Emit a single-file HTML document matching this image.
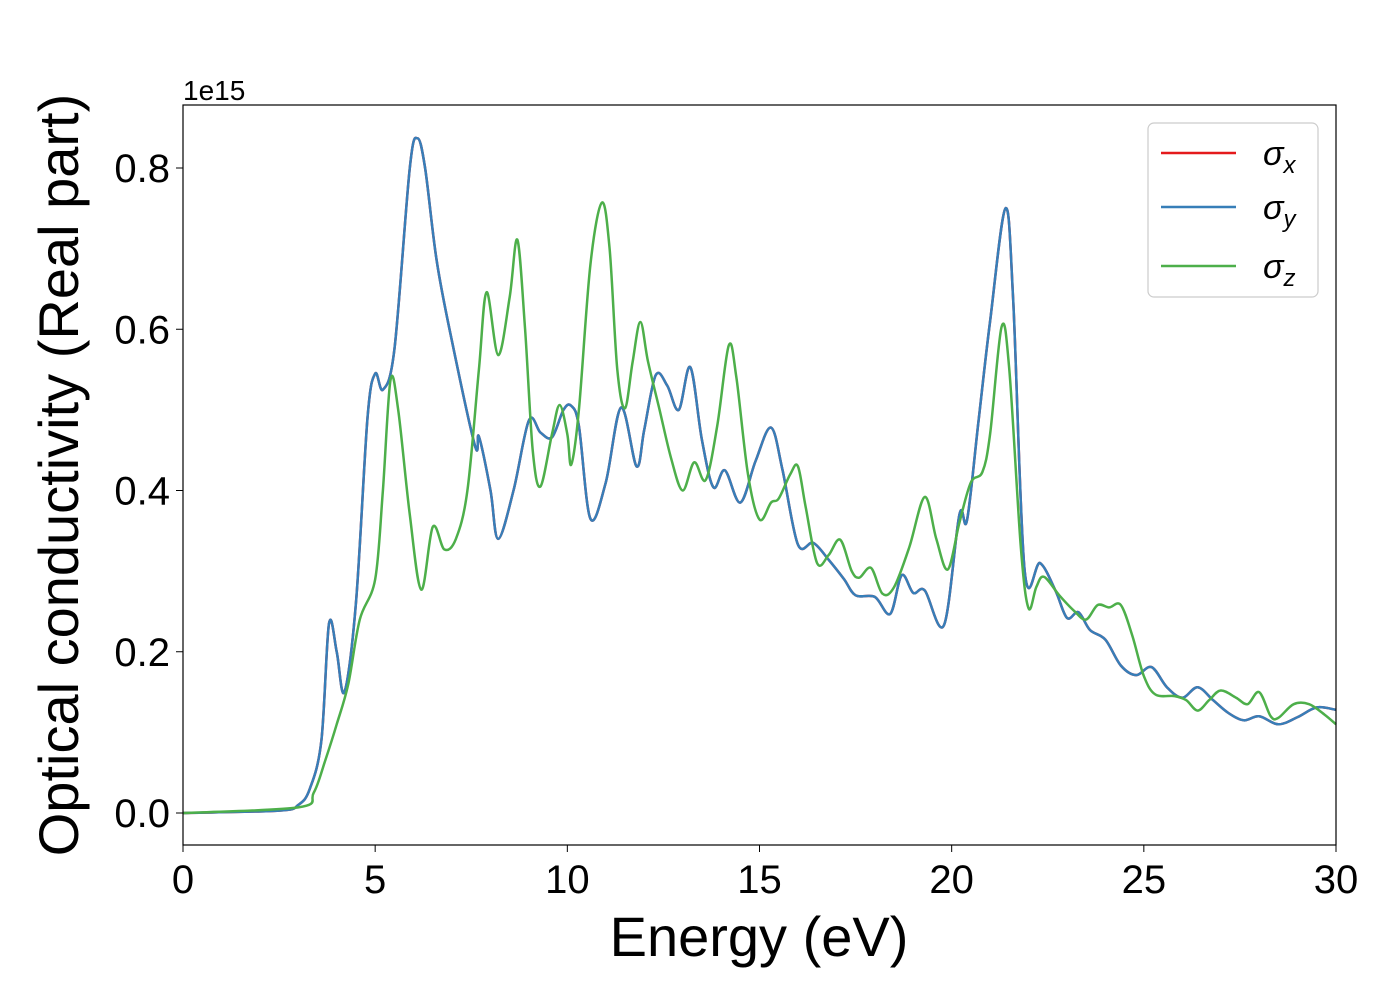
<!DOCTYPE html>
<html><head><meta charset="utf-8"><style>
html,body{margin:0;padding:0;background:#fff;}
svg{display:block;font-family:"Liberation Sans","DejaVu Sans",sans-serif;}
</style></head><body>
<svg id="chart" width="1400" height="1000" viewBox="0 0 1400 1000">
<rect width="1400" height="1000" fill="#fff"/>
<g id="series"></g>
<rect x="183" y="105" width="1153" height="740" fill="none" stroke="#000" stroke-width="1.2"/>
<g id="xticks"></g>
<g id="yticks"></g>
<text x="183" y="100" font-size="28">1e15</text>
<text x="759" y="956" font-size="56" text-anchor="middle">Energy (eV)</text>
<text transform="translate(78,475) rotate(-90)" font-size="56" text-anchor="middle">Optical conductivity (Real part)</text>
<g>
<rect x="1148" y="123" width="170" height="174" rx="6" fill="#fff" stroke="#ccc" stroke-width="1.2"/>
<line x1="1161" y1="153" x2="1236" y2="153" stroke="#e41a1c" stroke-width="2.5"/>
<text x="1263" y="165" font-size="34" font-style="italic">σ<tspan font-size="24" dy="8">x</tspan></text>
<line x1="1161" y1="207" x2="1236" y2="207" stroke="#377eb8" stroke-width="2.5"/>
<text x="1263" y="219" font-size="34" font-style="italic">σ<tspan font-size="24" dy="8">y</tspan></text>
<line x1="1161" y1="266" x2="1236" y2="266" stroke="#4daf4a" stroke-width="2.5"/>
<text x="1263" y="278" font-size="34" font-style="italic">σ<tspan font-size="24" dy="8">z</tspan></text>
</g>
</svg>
<script>
const xyE=[0,2.5,3,3.3,3.6,3.8,4.0,4.2,4.5,4.8,5.0,5.2,5.5,5.9,6.1,6.3,6.6,7.0,7.6,7.7,8.0,8.2,8.6,9.0,9.3,9.6,9.9,10.1,10.3,10.6,11.0,11.4,11.8,12.0,12.3,12.6,12.9,13.2,13.5,13.8,14.1,14.5,14.9,15.3,15.6,16.0,16.4,16.8,17.2,17.5,18.0,18.4,18.7,19.0,19.3,19.8,20.2,20.4,20.7,21.0,21.4,21.6,21.9,22.3,22.7,23.0,23.3,23.6,24.0,24.4,24.8,25.2,25.6,26.0,26.4,26.8,27.2,27.6,28.0,28.5,29.0,29.5,30];
const xyV=[0,0.003,0.01,0.03,0.09,0.235,0.2,0.15,0.26,0.49,0.545,0.525,0.575,0.8,0.837,0.8,0.685,0.585,0.455,0.467,0.4,0.34,0.4,0.487,0.472,0.466,0.5,0.505,0.48,0.365,0.41,0.503,0.43,0.475,0.543,0.53,0.5,0.553,0.463,0.404,0.425,0.385,0.437,0.478,0.425,0.333,0.335,0.314,0.29,0.27,0.268,0.247,0.295,0.273,0.276,0.233,0.37,0.363,0.487,0.61,0.75,0.636,0.3,0.31,0.276,0.242,0.249,0.227,0.215,0.183,0.171,0.181,0.156,0.143,0.156,0.14,0.124,0.115,0.12,0.11,0.119,0.131,0.128];
const zE=[0,3,3.4,3.7,4.0,4.3,4.6,5.0,5.2,5.4,5.6,5.9,6.2,6.5,6.8,7.1,7.4,7.7,7.9,8.2,8.5,8.7,8.9,9.1,9.3,9.6,9.8,10.0,10.1,10.3,10.6,10.9,11.1,11.3,11.5,11.7,11.9,12.1,12.4,12.7,13.0,13.3,13.6,13.9,14.2,14.4,14.7,15.0,15.3,15.5,15.8,16.0,16.2,16.5,16.8,17.1,17.4,17.6,17.9,18.2,18.5,18.9,19.3,19.6,19.9,20.2,20.5,20.8,21.0,21.3,21.5,21.8,22.0,22.2,22.4,22.8,23.2,23.5,23.8,24.1,24.4,24.7,25.0,25.3,25.8,26.1,26.4,26.7,27.0,27.4,27.7,28.0,28.3,28.5,28.9,29.3,29.7,30];
const zV=[0,0.007,0.025,0.065,0.11,0.16,0.24,0.29,0.4,0.537,0.5,0.37,0.277,0.355,0.327,0.34,0.4,0.55,0.646,0.568,0.64,0.711,0.6,0.45,0.405,0.47,0.506,0.47,0.432,0.5,0.68,0.757,0.7,0.55,0.502,0.56,0.609,0.56,0.5,0.44,0.4,0.435,0.413,0.48,0.58,0.54,0.42,0.364,0.385,0.39,0.42,0.43,0.38,0.31,0.32,0.339,0.3,0.292,0.304,0.272,0.28,0.33,0.392,0.34,0.302,0.36,0.41,0.423,0.47,0.603,0.55,0.33,0.254,0.28,0.293,0.27,0.25,0.24,0.258,0.255,0.258,0.22,0.17,0.147,0.145,0.14,0.127,0.14,0.152,0.143,0.135,0.15,0.12,0.118,0.135,0.135,0.122,0.11];
const xTicks=[0,5,10,15,20,25,30];
const yTicks=[0,0.2,0.4,0.6,0.8];
const yTickLabels=["0.0","0.2","0.4","0.6","0.8"];

const NS="http://www.w3.org/2000/svg";
const X0=183,X1=1336,XMAX=30,Y0=813,YS=806.25;
function sx(e){return X0+(X1-X0)*e/XMAX;}
function sy(v){return Y0-v*YS;}
function pathFor(E,V){
  const p=E.map((e,i)=>[sx(e),sy(V[i])]);
  let d="M"+p[0][0]+","+p[0][1];
  for(let i=0;i<p.length-1;i++){
    const a=p[Math.max(i-1,0)],b=p[i],c=p[i+1],n=p[Math.min(i+2,p.length-1)];
    const c1x=b[0]+(c[0]-a[0])/6,c1y=b[1]+(c[1]-a[1])/6;
    const c2x=c[0]-(n[0]-b[0])/6,c2y=c[1]-(n[1]-b[1])/6;
    d+=" C"+c1x.toFixed(1)+","+c1y.toFixed(1)+" "+c2x.toFixed(1)+","+c2y.toFixed(1)+" "+c[0].toFixed(1)+","+c[1].toFixed(1);
  }
  return d;
}
const g=document.getElementById("series");
function addLine(E,V,color,name){
  const el=document.createElementNS(NS,"path");
  el.setAttribute("d",pathFor(E,V));
  el.setAttribute("fill","none");el.setAttribute("stroke",color);el.setAttribute("stroke-width","2.5");
  
  
  g.appendChild(el);
}
addLine(xyE,xyV,"#e41a1c","sigma-x-line");
addLine(xyE,xyV,"#377eb8","sigma-y-line");
addLine(zE,zV,"#4daf4a","sigma-z-line");
const xg=document.getElementById("xticks");
xTicks.forEach(t=>{
  const l=document.createElementNS(NS,"line");
  l.setAttribute("x1",sx(t));l.setAttribute("x2",sx(t));l.setAttribute("y1",845);l.setAttribute("y2",852);l.setAttribute("stroke","#000");
  
  
  xg.appendChild(l);
  const tx=document.createElementNS(NS,"text");
  tx.setAttribute("x",sx(t));tx.setAttribute("y",893);tx.setAttribute("font-size","40");tx.setAttribute("text-anchor","middle");
  tx.textContent=String(t);
  
  
  xg.appendChild(tx);
});
const yg=document.getElementById("yticks");
yTicks.forEach((t,i)=>{
  const l=document.createElementNS(NS,"line");
  l.setAttribute("x1",176);l.setAttribute("x2",183);l.setAttribute("y1",sy(t));l.setAttribute("y2",sy(t));l.setAttribute("stroke","#000");
  
  
  yg.appendChild(l);
  const tx=document.createElementNS(NS,"text");
  tx.setAttribute("x",170);tx.setAttribute("y",sy(t)+14);tx.setAttribute("font-size","40");tx.setAttribute("text-anchor","end");
  tx.textContent=yTickLabels[i];
  
  
  yg.appendChild(tx);
});
</script>
</body></html>
